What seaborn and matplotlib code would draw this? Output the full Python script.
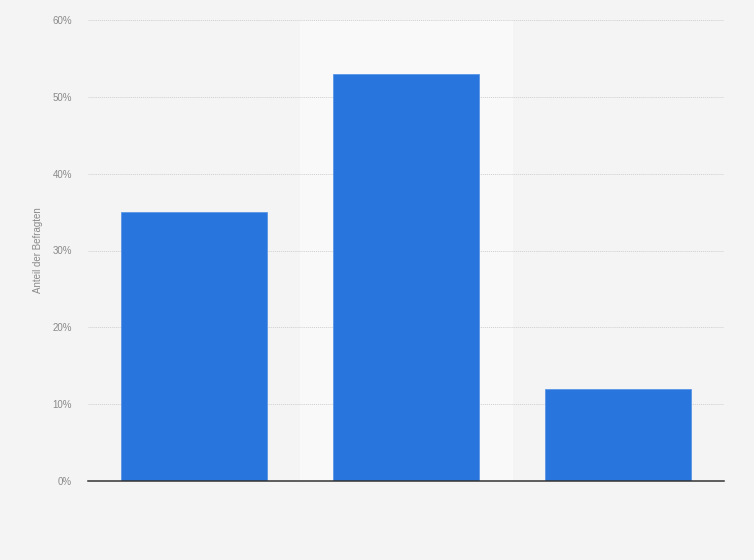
import matplotlib
matplotlib.use('Agg')
import matplotlib.pyplot as plt
import pandas as pd
import seaborn as sns
from matplotlib.ticker import FuncFormatter

# Data (answer labels are not shown in the chart)
categories = ['Antwort 1', 'Antwort 2', 'Antwort 3']
shares = [35, 53, 12]
highlighted = 1

df = pd.DataFrame({'category': categories, 'share': shares})

sns.set_style('white')
plt.rcParams['font.family'] = ['Liberation Sans', 'DejaVu Sans']

fig = plt.figure(figsize=(7.54, 5.6), dpi=100)
fig.patch.set_facecolor('#f4f4f4')
ax = fig.add_axes([88 / 754, 1 - 481 / 560, 636 / 754, 461 / 560])
ax.set_facecolor('#f4f4f4')

# Hover highlight behind the middle column
ax.axvspan(highlighted - 0.5, highlighted + 0.5, color='#f9f9f9', zorder=0)

sns.barplot(data=df, x='category', y='share', color='#2876dd', width=0.69,
            saturation=1, ax=ax, zorder=2, edgecolor='#5a96e6', linewidth=0.6)

ax.set_xlim(-0.5, len(categories) - 0.5)
ax.set_ylim(0, 60)
ax.set_yticks(range(0, 61, 10))
ax.yaxis.set_major_formatter(FuncFormatter(lambda v, p: f'{int(v)}%'))
ax.grid(axis='y', color='#cfcfcf', linestyle=(0, (1, 1)), linewidth=0.7, zorder=1)
ax.set_axisbelow(True)

ax.set_xticklabels([])
ax.tick_params(axis='x', length=0)
ax.tick_params(axis='y', length=0, labelsize=7, labelcolor='#8a8a8a', pad=11.5)
ax.set_xlabel('')
ax.set_ylabel('Anteil der Befragten', fontsize=7, color='#8a8a8a', labelpad=7)

for side in ['top', 'right', 'left']:
    ax.spines[side].set_visible(False)
ax.spines['bottom'].set_color('#333333')
ax.spines['bottom'].set_linewidth(1.1)
ax.spines['bottom'].set_zorder(3)

plt.savefig('out.png', dpi=100, facecolor=fig.get_facecolor())
